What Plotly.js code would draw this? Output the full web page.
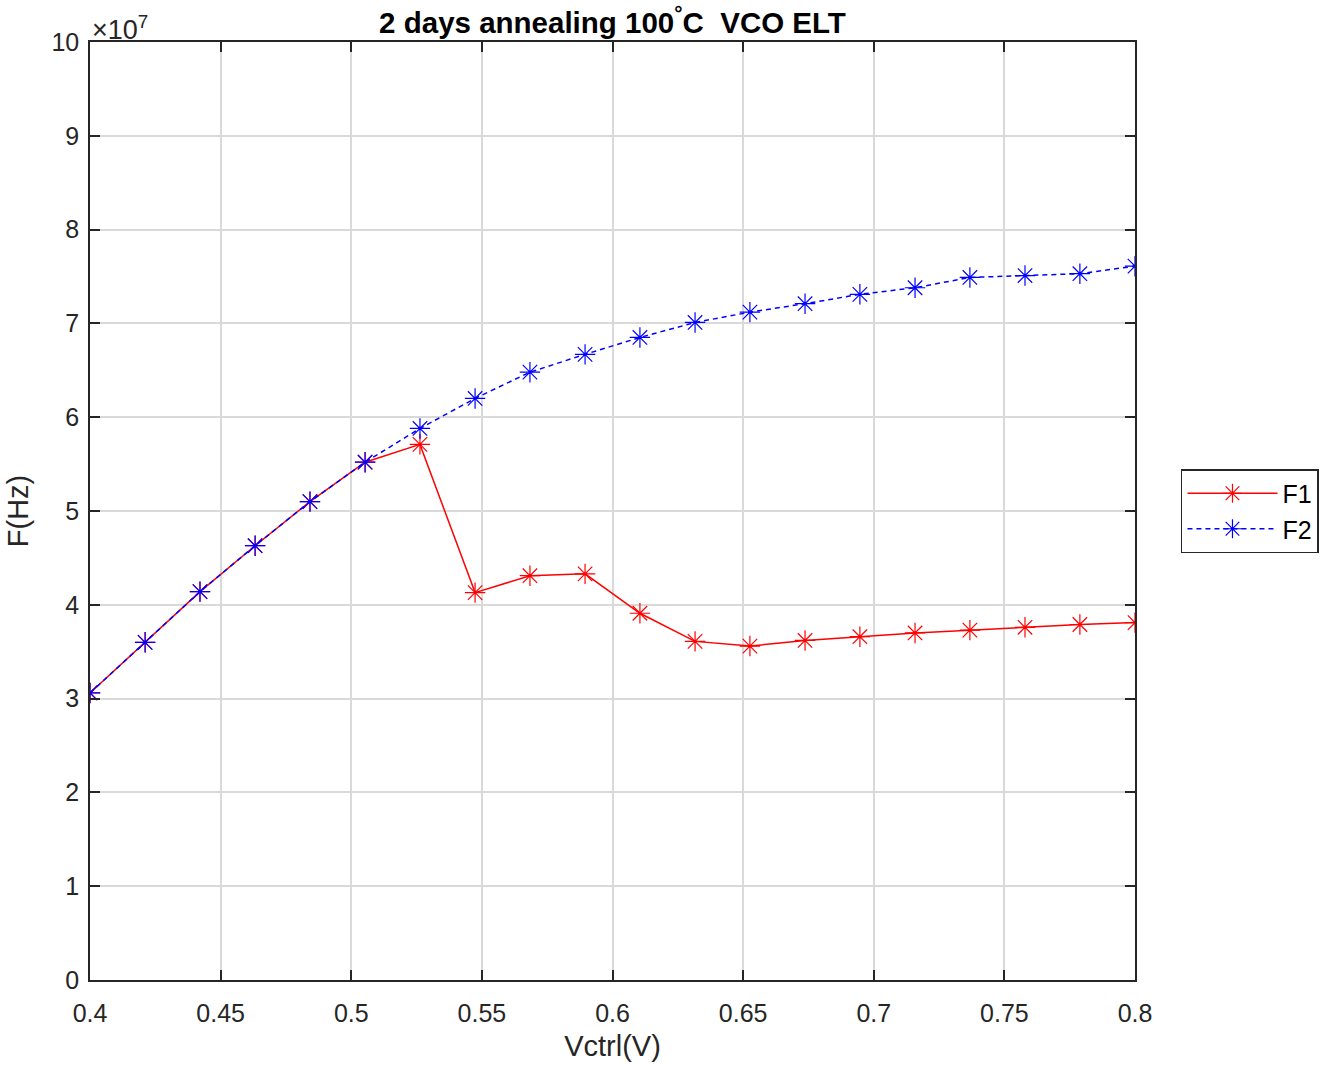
<!DOCTYPE html>
<html>
<head>
<meta charset="utf-8">
<script src="https://cdn.plot.ly/plotly-3.0.1.min.js"></script>
<style>html,body{margin:0;padding:0;background:#fff;}#chart{width:1328px;height:1065px;}</style>
</head>
<body>
<div id="chart"></div>
<script>
const vctrl = [0.4, 0.4211, 0.4421, 0.4632, 0.4842, 0.5053, 0.5263, 0.5474, 0.5684, 0.5895,
               0.6105, 0.6316, 0.6526, 0.6737, 0.6947, 0.7158, 0.7368, 0.7579, 0.7789, 0.8];
const f1 = [3.06e7, 3.60e7, 4.14e7, 4.63e7, 5.10e7, 5.52e7, 5.71e7, 4.13e7, 4.31e7, 4.33e7,
            3.91e7, 3.61e7, 3.56e7, 3.62e7, 3.66e7, 3.70e7, 3.73e7, 3.76e7, 3.79e7, 3.81e7];
const f2 = [3.06e7, 3.60e7, 4.14e7, 4.63e7, 5.10e7, 5.52e7, 5.88e7, 6.20e7, 6.48e7, 6.67e7,
            6.85e7, 7.01e7, 7.12e7, 7.21e7, 7.31e7, 7.38e7, 7.49e7, 7.51e7, 7.53e7, 7.61e7];
const xTicks = [0.4, 0.45, 0.5, 0.55, 0.6, 0.65, 0.7, 0.75, 0.8];
const xTickText = ['0.4', '0.45', '0.5', '0.55', '0.6', '0.65', '0.7', '0.75', '0.8'];
const yTicks = [0, 1e7, 2e7, 3e7, 4e7, 5e7, 6e7, 7e7, 8e7, 9e7, 1e8];
const yTickText = ['0', '1', '2', '3', '4', '5', '6', '7', '8', '9', '10'];

const font = 'Liberation Sans, Arial, Helvetica, sans-serif';
const axisCommon = {
  showline: true, mirror: 'ticks', linecolor: '#262626', linewidth: 1.5,
  ticks: 'inside', ticklen: 10, tickcolor: '#262626', tickwidth: 1.5,
  showgrid: true, gridcolor: '#d9d9d9', gridwidth: 1.5, zeroline: false,
  tickfont: {family: font, size: 25, color: '#262626'}
};

const traces = [
  {x: vctrl, y: f1, name: 'F1', type: 'scatter', mode: 'lines+markers',
   line: {color: '#ff0000', width: 1.5},
   marker: {symbol: 'asterisk-open', size: 17, color: '#ff0000', line: {color: '#ff0000', width: 1.2}}},
  {x: vctrl, y: f2, name: 'F2', type: 'scatter', mode: 'lines+markers',
   line: {color: '#0000ff', width: 1.5, dash: '5px,4px'},
   marker: {symbol: 'asterisk-open', size: 17, color: '#0000ff', line: {color: '#0000ff', width: 1.2}}}
];

const layout = {
  width: 1328, height: 1065,
  margin: {l: 90, r: 193, t: 42, b: 85, autoexpand: false},
  paper_bgcolor: '#ffffff', plot_bgcolor: '#ffffff',
  font: {family: font, color: '#262626'},
  title: {text: '<b>2 days annealing 100<sup>°</sup>C  VCO ELT</b>', font: {family: font, size: 29.5, color: '#000'},
          xref: 'paper', x: 0.5, xanchor: 'center', yref: 'container', y: 0.979, yanchor: 'middle'},
  xaxis: Object.assign({}, axisCommon, {range: [0.4, 0.8], tickvals: xTicks, ticktext: xTickText,
          ticklabelstandoff: 10,
          title: {text: 'Vctrl(V)', font: {family: font, size: 29, color: '#262626'}, standoff: 10}}),
  yaxis: Object.assign({}, axisCommon, {range: [0, 1e8], tickvals: yTicks, ticktext: yTickText,
          ticklabelstandoff: 4,
          title: {text: 'F(Hz)', font: {family: font, size: 29, color: '#262626'}, standoff: 14}}),
  showlegend: true,
  legend: {x: 1.044, xanchor: 'left', y: 0.5, yanchor: 'middle', bgcolor: '#fff',
           bordercolor: '#262626', borderwidth: 1.5, font: {family: font, size: 25, color: '#000'},
           itemwidth: 90, tracegroupgap: 0},
  annotations: [{text: '×10<sup>7</sup>', xref: 'paper', yref: 'paper', x: 0, y: 1, xanchor: 'left', yanchor: 'bottom',
                 showarrow: false, font: {family: font, size: 27, color: '#262626'}, yshift: -5}]
};

Plotly.newPlot('chart', traces, layout, {displayModeBar: false});
</script>
</body>
</html>
